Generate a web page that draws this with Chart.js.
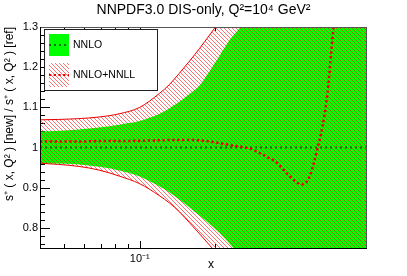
<!DOCTYPE html>
<html lang="en">
<head>
    <meta charset="UTF-8">
    <title>NNPDF3.0 DIS-only s+ ratio</title>
    <script src="https://cdn.jsdelivr.net/npm/chart.js"></script>
    <style>
        html, body { margin: 0; padding: 0; background: #fff; }
    </style>
</head>
<body>
    <canvas id="ratioChart" width="407" height="276"></canvas>
    <script>
        // x grid shared by both uncertainty bands
        const xBand = [0.04, 0.0475, 0.0572, 0.0688, 0.0828, 0.1, 0.12, 0.1315, 0.144, 0.158, 0.1735, 0.19, 0.209, 0.229, 0.251, 0.2755, 0.302, 0.364, 0.4375, 0.5265, 0.633, 0.8];
        // NNLO band (green)
        const nnloUpper = [1.040, 1.042, 1.045, 1.050, 1.057, 1.066, 1.084, 1.098, 1.114, 1.133, 1.155, 1.190, 1.230, 1.268, 1.298, 1.33, 1.36, 1.42, 1.48, 1.54, 1.60, 1.70];
        const nnloLower = [0.961, 0.960, 0.958, 0.952, 0.943, 0.928, 0.903, 0.888, 0.870, 0.851, 0.830, 0.810, 0.787, 0.760, 0.730, 0.700, 0.670, 0.61, 0.55, 0.49, 0.43, 0.35];
        // NNLO+NNLL band (red hatch)
        const nnllUpper = [1.069, 1.070, 1.072, 1.076, 1.084, 1.100, 1.135, 1.157, 1.185, 1.215, 1.247, 1.280, 1.315, 1.35, 1.38, 1.41, 1.44, 1.50, 1.56, 1.62, 1.68, 1.76];
        const nnllLower = [0.961, 0.958, 0.953, 0.944, 0.929, 0.910, 0.880, 0.862, 0.840, 0.813, 0.785, 0.757, 0.728, 0.700, 0.670, 0.640, 0.610, 0.55, 0.49, 0.43, 0.37, 0.29];

        // central values
        const xCentral = [0.04, 0.0475, 0.0572, 0.0688, 0.0828, 0.1, 0.12, 0.144, 0.1735, 0.209, 0.229, 0.258, 0.2755, 0.2932, 0.3215, 0.3527, 0.3869, 0.4243, 0.4436, 0.4624, 0.4799, 0.4934, 0.5105, 0.5362, 0.5617, 0.5775, 0.5935, 0.6046];
        const nnllCentral = [1.015, 1.015, 1.015, 1.016, 1.016, 1.017, 1.018, 1.019, 1.018, 1.011, 1.006, 1.001, 0.998, 0.990, 0.977, 0.962, 0.935, 0.913, 0.908, 0.914, 0.933, 0.958, 0.994, 1.052, 1.135, 1.218, 1.30, 1.36];
        const xNnlo = [0.04, 0.8];
        const nnloCentral = [1, 1];

        // axis ticks
        const xTicks = [0.05, 0.06, 0.07, 0.08, 0.09, 0.1, 0.2, 0.3, 0.4, 0.5, 0.6, 0.7, 0.8];
        const yTicks = [];
        for (let i = 38; i <= 65; i++) yTicks.push(+(i * 0.02).toFixed(2));

        const FONT = "'Liberation Sans', Arial, Helvetica, sans-serif";
        const RED = 'rgb(235,0,0)';
        const GREEN = 'rgb(0,255,0)';
        const DARKGREEN = 'rgb(10,110,10)';

        const pts = (xs, ys) => xs.map((x, i) => ({ x: x, y: ys[i] }));
        const isMajorY = v => Math.abs(v * 10 - Math.round(v * 10)) < 1e-6;

        // red "\\\" hatching, one pixel per row
        const hatch = (() => {
            const s = 4;
            const c = document.createElement('canvas');
            c.width = s; c.height = s;
            const g = c.getContext('2d');
            g.fillStyle = 'rgba(255,0,0,0.55)';
            for (let i = 0; i < s; i++) g.fillRect(i, i, 1, 1);
            return g.createPattern(c, 'repeat');
        })();

        // ROOT-like inner ticks, frame, legend and x title
        const rootFrame = {
            id: 'rootFrame',
            beforeDatasetsDraw(chart) {
                const { ctx, chartArea: a, scales: { x, y } } = chart;
                ctx.save();
                ctx.strokeStyle = '#000';
                ctx.lineWidth = 1;
                ctx.beginPath();
                y.ticks.forEach(t => {
                    const py = Math.round(y.getPixelForValue(t.value)) + 0.5;
                    const len = isMajorY(t.value) ? 10 : 5;
                    ctx.moveTo(a.left, py); ctx.lineTo(a.left + len, py);
                    ctx.moveTo(a.right, py); ctx.lineTo(a.right - len, py);
                });
                x.ticks.forEach(t => {
                    const px = Math.round(x.getPixelForValue(t.value)) + 0.5;
                    const len = t.value === 0.1 ? 7 : 4;
                    ctx.moveTo(px, a.bottom); ctx.lineTo(px, a.bottom - len);
                    ctx.moveTo(px, a.top); ctx.lineTo(px, a.top + len);
                });
                ctx.stroke();
                ctx.restore();
            },
            afterDatasetsDraw(chart) {
                const { ctx, chartArea: a } = chart;
                ctx.save();
                // frame
                ctx.lineWidth = 1;
                ctx.strokeStyle = '#555';
                ctx.beginPath();
                ctx.moveTo(a.left, a.top + 0.5); ctx.lineTo(a.right + 1, a.top + 0.5);
                ctx.moveTo(a.right + 0.5, a.top); ctx.lineTo(a.right + 0.5, a.bottom + 1);
                ctx.stroke();
                ctx.strokeStyle = '#000';
                ctx.beginPath();
                ctx.moveTo(a.left + 0.5, a.top); ctx.lineTo(a.left + 0.5, a.bottom + 1);
                ctx.moveTo(a.left, a.bottom + 0.5); ctx.lineTo(a.right + 1, a.bottom + 0.5);
                ctx.stroke();

                // legend
                ctx.fillStyle = '#fff';
                ctx.fillRect(44.5, 29.5, 113, 61);
                ctx.strokeStyle = '#222';
                ctx.strokeRect(44.5, 29.5, 113, 61);
                ctx.fillStyle = GREEN;
                ctx.fillRect(49, 34, 20, 22);
                ctx.fillStyle = hatch;
                ctx.fillRect(49, 63, 20, 24);
                ctx.lineWidth = 2;
                ctx.setLineDash([2, 3]);
                ctx.strokeStyle = DARKGREEN;
                ctx.beginPath(); ctx.moveTo(49, 45); ctx.lineTo(69, 45); ctx.stroke();
                ctx.strokeStyle = RED;
                ctx.setLineDash([2.3, 2.4]);
                ctx.beginPath(); ctx.moveTo(49, 75); ctx.lineTo(69, 75); ctx.stroke();
                ctx.setLineDash([]);
                ctx.fillStyle = '#000';
                ctx.font = '10.5px ' + FONT;
                ctx.textBaseline = 'middle';
                ctx.textAlign = 'left';
                ctx.fillText('NNLO', 73, 45.5);
                ctx.fillText('NNLO+NNLL', 73, 75.5);

                // x axis title
                ctx.font = '12px ' + FONT;
                ctx.textAlign = 'center';
                ctx.fillText('x', 211, 265);
                ctx.restore();
            }
        };

        const line = (data, extra) => Object.assign({
            data: data,
            pointRadius: 0,
            borderWidth: 0,
            fill: false,
            cubicInterpolationMode: 'monotone'
        }, extra);

        new Chart(document.getElementById('ratioChart'), {
            type: 'line',
            data: {
                datasets: [
                    line(pts(xBand, nnloLower), { order: 10 }),
                    line(pts(xBand, nnloUpper), { order: 9, fill: '-1', backgroundColor: GREEN }),
                    line(pts(xBand, nnllLower), { order: 7, borderColor: RED, borderWidth: 1 }),
                    line(pts(xBand, nnllUpper), { order: 8, borderColor: RED, borderWidth: 1, fill: '-1', backgroundColor: hatch }),
                    line(pts(xNnlo, nnloCentral), { order: 6, borderColor: DARKGREEN, borderWidth: 2, borderDash: [2, 3] }),
                    line(pts(xCentral, nnllCentral), { order: 5, borderColor: RED, borderWidth: 2.5, borderDash: [2.3, 2.6] })
                ]
            },
            options: {
                responsive: false,
                devicePixelRatio: 1,
                animation: false,
                layout: { padding: 0 },
                plugins: {
                    legend: { display: false },
                    tooltip: { enabled: false },
                    title: {
                        display: true,
                        text: 'NNPDF3.0 DIS-only, Q²=10⁴ GeV²',
                        color: '#000',
                        font: { family: FONT, size: 14, weight: 'normal' },
                        padding: { top: 2, bottom: 8.2 }
                    }
                },
                scales: {
                    x: {
                        type: 'logarithmic',
                        min: 0.04,
                        max: 0.8,
                        bounds: 'data',
                        grid: { display: false, drawTicks: false },
                        border: { display: false },
                        afterBuildTicks: s => { s.ticks = xTicks.map(v => ({ value: v })); },
                        afterFit: s => { s.height = 28; },
                        ticks: {
                            autoSkip: false,
                            maxRotation: 0,
                            padding: 4,
                            color: '#000',
                            font: { family: FONT, size: 11 },
                            callback: v => (v === 0.1 ? '10⁻¹' : '')
                        }
                    },
                    y: {
                        min: 0.75,
                        max: 1.3,
                        bounds: 'data',
                        grid: { display: false, drawTicks: false },
                        border: { display: false },
                        afterBuildTicks: s => { s.ticks = yTicks.map(v => ({ value: v })); },
                        afterFit: s => { s.width = 40; },
                        ticks: {
                            autoSkip: false,
                            padding: 2,
                            color: '#000',
                            font: { family: FONT, size: 11 },
                            callback: v => (isMajorY(v) ? (Math.abs(v - 1) < 1e-6 ? '1' : v.toFixed(1)) : '')
                        },
                        title: {
                            display: true,
                            text: 's⁺ ( x, Q² ) [new] / s⁺ ( x, Q² ) [ref]',
                            align: 'end',
                            color: '#000',
                            font: { family: FONT, size: 12 },
                            padding: { top: 2.5, bottom: 0 }
                        }
                    },
                    yRight: {
                        position: 'right',
                        grid: { display: false, drawTicks: false },
                        border: { display: false },
                        ticks: { display: false },
                        afterFit: s => { s.width = 41; }
                    }
                }
            },
            plugins: [rootFrame]
        });
    </script>
</body>
</html>
